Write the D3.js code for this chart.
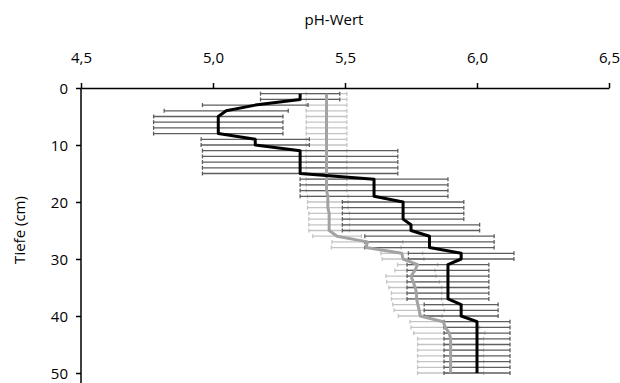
<!DOCTYPE html>
<html><head>
<meta charset="utf-8">
<title>pH-Wert / Tiefe</title>
<script src="https://d3js.org/d3.v7.min.js"></script>
<style>
  body { margin: 0; background: #fff; }
  text { font-family: "Open Sans", "Noto Sans", sans-serif; fill: #000; }
  .axis path, .axis line { stroke: #000; stroke-width: 1.5px; }
  .axis text { font-size: 15px; }
</style>
</head>
<body>
<svg id="chart" width="620" height="383"></svg>

<script>
// depth of each measurement (cm)
const depths = [1,2,3,4,5,6,7,8,9,10,11,12,13,14,15,16,17,18,19,20,21,22,23,24,25,
                26,27,28,29,30,31,32,33,34,35,36,37,38,39,40,41,42,43,44,45,46,47,48,49,50];

// black series: mean pH and +/- deviation
const blackMean = [5.33,5.33,5.16,5.05,5.02,5.02,5.02,5.02,5.16,5.16,
                   5.33,5.33,5.33,5.33,5.33,5.61,5.61,5.61,5.61,5.72,
                   5.72,5.72,5.72,5.75,5.75,5.82,5.82,5.82,5.94,5.94,
                   5.89,5.89,5.89,5.89,5.89,5.89,5.89,5.94,5.94,5.94,
                   6.00,6.00,6.00,6.00,6.00,6.00,6.00,6.00,6.00,6.00];
const blackErr  = [0.15,0.15,0.20,0.235,0.245,0.245,0.245,0.245,0.205,0.205,
                   0.37,0.37,0.37,0.37,0.37,0.28,0.28,0.28,0.28,0.23,
                   0.23,0.23,0.23,0.26,0.26,0.245,0.245,0.245,0.20,0.20,
                   0.155,0.155,0.155,0.155,0.155,0.155,0.155,0.14,0.14,0.14,
                   0.125,0.125,0.125,0.125,0.125,0.125,0.125,0.125,0.125,0.125];

// grey series: mean pH and +/- deviation
const greyMean = [5.43,5.43,5.43,5.43,5.43,5.43,5.43,5.43,5.43,5.43,
                  5.43,5.43,5.43,5.43,5.43,5.43,5.43,5.43,5.435,5.435,
                  5.435,5.44,5.44,5.44,5.44,5.47,5.585,5.58,5.715,5.72,
                  5.775,5.765,5.75,5.758,5.766,5.771,5.771,5.776,5.781,5.785,
                  5.872,5.88,5.895,5.90,5.90,5.90,5.90,5.90,5.90,5.90];
const greyErr  = [0.077,0.077,0.077,0.077,0.077,0.077,0.077,0.077,0.077,0.077,
                  0.077,0.077,0.077,0.077,0.077,0.077,0.077,0.077,0.077,0.077,
                  0.077,0.077,0.077,0.077,0.077,0.092,0.134,0.132,0.079,0.079,
                  0.076,0.076,0.095,0.10,0.10,0.095,0.095,0.095,0.095,0.083,
                  0.126,0.13,0.135,0.125,0.125,0.125,0.125,0.125,0.125,0.125];

const xTicks = [4.5, 5.0, 5.5, 6.0, 6.5];
const yTicks = [0, 10, 20, 30, 40, 50];

const svg = d3.select("#chart");
const margin = { top: 88, left: 81, right: 11 };
const plotWidth = 620 - margin.left - margin.right;
const plotHeight = 285;
const chart = svg.append("g")
                 .attr("transform", "translate(" + margin.left + "," + margin.top + ")");

const x = d3.scaleLinear().domain([4.5, 6.5]).range([0, plotWidth]);
const y = d3.scaleLinear().domain([0, 50]).range([0, plotHeight]);

const fmt = d => d3.format(".1f")(d).replace(".", ",");

// top axis
chart.append("g").attr("class", "axis")
  .call(d3.axisTop(x).tickValues(xTicks).tickFormat(fmt)
          .tickSize(5).tickSizeOuter(0).tickPadding(20));

// left axis, line runs on to the bottom edge
const yAxisG = chart.append("g").attr("class", "axis")
  .call(d3.axisLeft(y).tickValues(yTicks).tickSize(5).tickSizeOuter(0).tickPadding(8));
yAxisG.select(".domain").attr("d", "M0,0V" + (plotHeight + 12));
yAxisG.selectAll("text").attr("dy", "0.35em");

// error bars
function drawBars(mean, err, color) {
  const rows = depths.map((d, i) => ({ d: d, lo: mean[i] - err[i], hi: mean[i] + err[i] }));
  const g = chart.append("g");
  g.selectAll("line.bar").data(rows).enter().append("line")
    .attr("x1", r => x(r.lo)).attr("x2", r => x(r.hi))
    .attr("y1", r => y(r.d)).attr("y2", r => y(r.d))
    .attr("stroke", color).attr("stroke-width", 1.3);
  ["lo", "hi"].forEach(k => {
    g.selectAll("line.cap" + k).data(rows).enter().append("line")
      .attr("x1", r => x(r[k])).attr("x2", r => x(r[k]))
      .attr("y1", r => y(r.d) - 2).attr("y2", r => y(r.d) + 2)
      .attr("stroke", color).attr("stroke-width", 1.3);
  });
}
drawBars(greyMean, greyErr, "#c4c4c4");
drawBars(blackMean, blackErr, "#5e5e5e");

// mean profiles
const line = d3.line().x(p => x(p[0])).y(p => y(p[1]));

chart.append("path")
  .datum(depths.map((d, i) => [greyMean[i], d]))
  .attr("d", line).attr("fill", "none")
  .attr("stroke", "#a3a3a3").attr("stroke-width", 3).attr("stroke-linejoin", "round");

chart.append("path")
  .datum(depths.map((d, i) => [blackMean[i], d]))
  .attr("d", line).attr("fill", "none")
  .attr("stroke", "#000").attr("stroke-width", 3).attr("stroke-linejoin", "round");

// axis titles
svg.append("text").attr("x", 334).attr("y", 25)
  .attr("text-anchor", "middle").style("font-size", "15px").text("pH-Wert");

svg.append("text")
  .attr("transform", "translate(25,230) rotate(-90)")
  .attr("text-anchor", "middle").style("font-size", "15px").text("Tiefe (cm)");
</script>
</body>
</html>
